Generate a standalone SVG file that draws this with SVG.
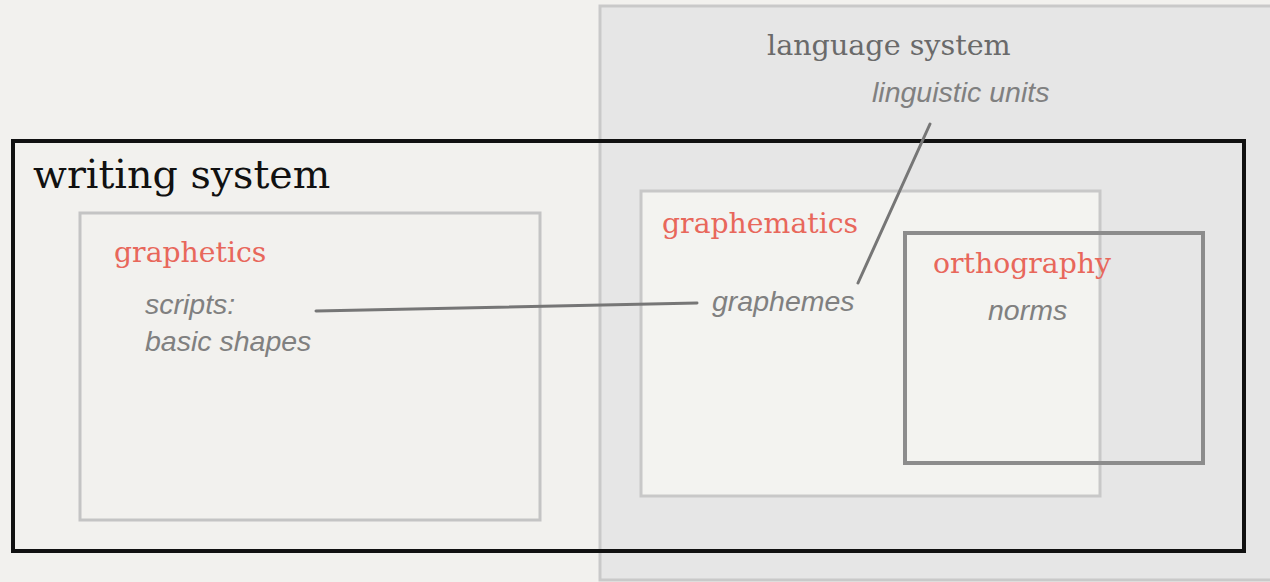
<svg xmlns="http://www.w3.org/2000/svg" width="1270" height="582" viewBox="0 0 1270 582">
<style>
.serif{font-family:"DejaVu Serif","Liberation Serif",serif;}
.red{fill:#e8675b;font-size:28.3px;}
.note{font-family:"Liberation Sans",Arial,sans-serif;font-style:italic;fill:#808080;font-size:28.5px;}
.conn{stroke:#767676;stroke-width:3;fill:none;stroke-linecap:round;}
</style>
<rect x="0" y="0" width="1270" height="582" fill="#f2f1ee"/>
<g id="language-system">
<rect x="600" y="6" width="680" height="574" fill="#e6e6e6" stroke="#c9c9c9" stroke-width="3"/>
<text class="serif" x="767" y="55" font-size="28.6" fill="#6a6a6a">language system</text>
<text class="note" x="872" y="102" font-size="29.8">linguistic units</text>
</g>
<g id="writing-system">
<rect x="13" y="141" width="1231" height="410" fill="none" stroke="#111" stroke-width="4"/>
<text class="serif" x="33" y="188" font-size="39.6" fill="#111">writing system</text>
</g>
<g id="graphetics">
<rect x="80" y="213" width="460" height="307" fill="#f2f1ee" stroke="#c4c4c4" stroke-width="3"/>
<text class="serif red" x="114" y="262">graphetics</text>
<text class="note" x="145" y="314">scripts:</text>
<text class="note" x="145" y="351">basic shapes</text>
</g>
<g id="graphematics">
<rect x="641" y="191" width="459" height="305" fill="#f3f3f0" stroke="#c8c8c8" stroke-width="3"/>
<text class="serif red" x="662" y="233">graphematics</text>
<text class="note" x="712" y="311">graphemes</text>
</g>
<g id="orthography">
<rect x="905" y="233" width="298" height="230" fill="none" stroke="#8c8c8c" stroke-width="4"/>
<text class="serif red" x="933" y="273">orthography</text>
<text class="note" x="988" y="320">norms</text>
</g>
<g id="connectors">
<line class="conn" x1="316" y1="311" x2="697" y2="303"/>
<line class="conn" x1="930" y1="124" x2="858" y2="283"/>
</g>
</svg>
